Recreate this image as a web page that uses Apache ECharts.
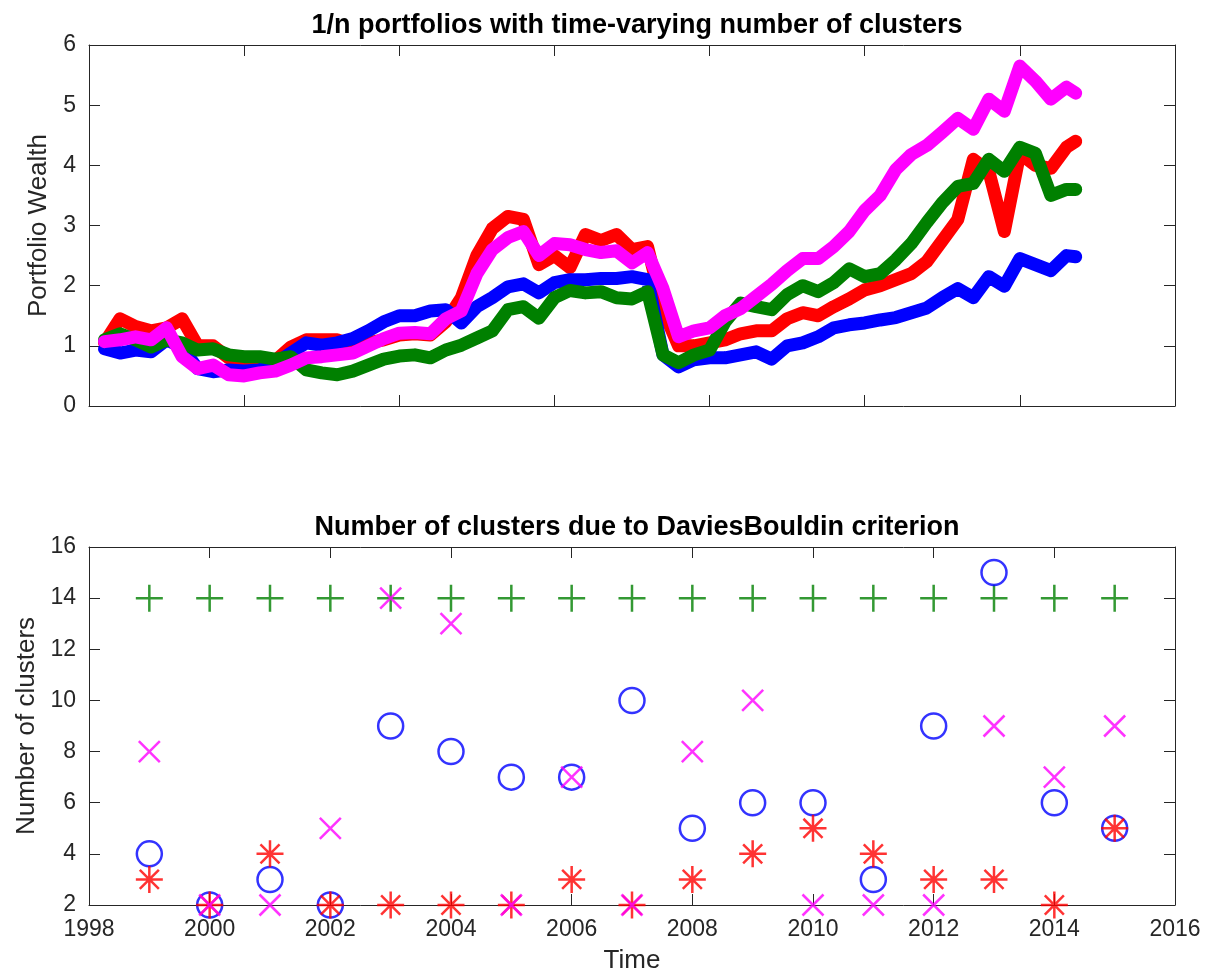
<!DOCTYPE html>
<html>
<head>
<meta charset="utf-8">
<title>1/n portfolios</title>
<script src="https://cdn.jsdelivr.net/npm/echarts@6/dist/echarts.min.js"></script>
<style>
  html, body { margin: 0; padding: 0; background: #ffffff; }
  #chart { width: 1207px; height: 970px; }
</style>
</head>
<body>
<div id="chart"></div>
<script>
// ---- Top panel: portfolio wealth paths (trading-day index vs. wealth) ----
const days = [50, 100, 150, 200, 250, 300, 350, 400, 450, 500, 550, 600, 650, 700, 750, 800,
  850, 900, 950, 1000, 1050, 1100, 1150, 1200, 1250, 1300, 1350, 1400, 1450, 1500, 1550, 1600,
  1650, 1700, 1750, 1800, 1850, 1900, 1950, 2000, 2050, 2100, 2150, 2200, 2250, 2300, 2350, 2400,
  2450, 2500, 2550, 2600, 2650, 2700, 2750, 2800, 2850, 2900, 2950, 3000, 3050, 3100, 3150, 3180];

const wealthRed = [1.05, 1.45, 1.32, 1.25, 1.30, 1.45, 1.00, 1.00, 0.80, 0.75, 0.70, 0.75, 0.98, 1.10, 1.10, 1.10,
  1.00, 1.05, 1.10, 1.18, 1.20, 1.18, 1.40, 1.80, 2.50, 2.95, 3.15, 3.10, 2.35, 2.50, 2.30, 2.85,
  2.75, 2.85, 2.60, 2.65, 1.60, 1.00, 1.00, 1.05, 1.10, 1.20, 1.25, 1.25, 1.45, 1.55, 1.50, 1.65,
  1.78, 1.93, 2.00, 2.10, 2.20, 2.40, 2.75, 3.10, 4.10, 3.90, 2.90, 4.20, 4.00, 3.95, 4.30, 4.40];

const wealthBlue = [0.95, 0.88, 0.93, 0.90, 1.10, 0.98, 0.62, 0.57, 0.60, 0.58, 0.60, 0.70, 0.88, 1.05, 1.01, 1.05,
  1.12, 1.25, 1.40, 1.50, 1.50, 1.58, 1.60, 1.38, 1.65, 1.80, 1.98, 2.03, 1.88, 2.05, 2.10, 2.10,
  2.12, 2.12, 2.15, 2.10, 0.85, 0.65, 0.77, 0.80, 0.80, 0.85, 0.90, 0.78, 1.00, 1.05, 1.15, 1.30,
  1.35, 1.38, 1.43, 1.47, 1.55, 1.63, 1.80, 1.95, 1.80, 2.15, 1.99, 2.45, 2.35, 2.25, 2.50, 2.48];

const wealthGreen = [1.10, 1.20, 1.10, 0.98, 1.10, 1.05, 0.93, 0.95, 0.85, 0.82, 0.82, 0.78, 0.82, 0.60, 0.55, 0.52,
  0.58, 0.68, 0.78, 0.83, 0.85, 0.80, 0.93, 1.01, 1.13, 1.25, 1.60, 1.65, 1.46, 1.80, 1.92, 1.88,
  1.90, 1.80, 1.78, 1.90, 0.85, 0.72, 0.85, 0.93, 1.40, 1.71, 1.65, 1.60, 1.85, 2.00, 1.90, 2.05,
  2.28, 2.15, 2.20, 2.43, 2.70, 3.05, 3.38, 3.65, 3.70, 4.10, 3.90, 4.30, 4.20, 3.50, 3.60, 3.60];

const wealthMagenta = [1.07, 1.10, 1.15, 1.10, 1.30, 0.82, 0.62, 0.68, 0.52, 0.50, 0.55, 0.58, 0.68, 0.80, 0.82, 0.85,
  0.88, 1.00, 1.12, 1.21, 1.22, 1.20, 1.45, 1.58, 2.20, 2.60, 2.80, 2.90, 2.50, 2.70, 2.68, 2.60,
  2.55, 2.58, 2.38, 2.55, 1.95, 1.15, 1.25, 1.30, 1.50, 1.62, 1.82, 2.02, 2.25, 2.45, 2.45, 2.65,
  2.90, 3.25, 3.50, 3.93, 4.18, 4.33, 4.55, 4.78, 4.60, 5.10, 4.90, 5.65, 5.40, 5.10, 5.30, 5.20];

// ---- Bottom panel: number of clusters per year ----
const years = [1999, 2000, 2001, 2002, 2003, 2004, 2005, 2006, 2007, 2008, 2009, 2010, 2011, 2012, 2013, 2014, 2015];
const clustersPlus   = [14, 14, 14, 14, 14, 14, 14, 14, 14, 14, 14, 14, 14, 14, 14, 14, 14];
const clustersCircle = [4, 2, 3, 2, 9, 8, 7, 7, 10, 5, 6, 6, 3, 9, 15, 6, 5];
const clustersStar   = [3, 2, 4, 2, 2, 2, 2, 3, 2, 3, 4, 5, 4, 3, 3, 2, 5];
const clustersCross  = [8, 2, 2, 5, 14, 13, 2, 7, 2, 8, 10, 2, 2, 2, 9, 7, 9];

const FONT = '"Liberation Sans", Arial, Helvetica, sans-serif';
const AXIS_COLOR = '#262626';

const pair = (xs, ys) => xs.map((x, i) => [x, ys[i]]);

function frameAxis(base, extra) {
  return Object.assign({
    type: 'value',
    axisLine: { show: true, onZero: false, lineStyle: { color: AXIS_COLOR, width: 1 } },
    axisTick: { show: true, inside: true, length: 11, lineStyle: { color: AXIS_COLOR, width: 1 } },
    splitLine: { show: false },
    axisLabel: { show: false }
  }, base, extra);
}

const tickLabel = {
  show: true, color: AXIS_COLOR, fontFamily: FONT, fontSize: 23, margin: 13,
  formatter: (v) => String(v)
};
const nameStyle = { fontFamily: FONT, fontSize: 26, color: AXIS_COLOR };
const titleStyle = { fontFamily: FONT, fontSize: 27, fontWeight: 'bold', color: '#000000' };

function wealthLine(data, color) {
  return {
    type: 'line', xAxisIndex: 0, yAxisIndex: 0,
    data: pair(days, data),
    showSymbol: false, symbol: 'none',
    lineStyle: { color: color, width: 13, cap: 'round', join: 'round' },
    silent: true
  };
}

function marker(data, path, size, color) {
  return {
    type: 'scatter', xAxisIndex: 2, yAxisIndex: 2,
    data: pair(years, data),
    symbol: path, symbolSize: size, clip: false,
    itemStyle: { color: 'transparent', borderColor: color, borderWidth: 2.5 },
    silent: true
  };
}

const PLUS  = 'path://M10,0L10,20M0,10L20,10';
const CROSS = 'path://M0,0L20,20M0,20L20,0';
const STAR  = 'path://M10,0L10,20M0,10L20,10M2.93,2.93L17.07,17.07M2.93,17.07L17.07,2.93';

const chart = echarts.init(document.getElementById('chart'), null, { renderer: 'canvas' });

chart.setOption({
  animation: false,
  backgroundColor: '#ffffff',
  title: [
    { text: '1/n portfolios with time-varying number of clusters', left: 632, top: 7, textAlign: 'center',
      textStyle: titleStyle },
    { text: 'Number of clusters due to DaviesBouldin criterion', left: 632, top: 509, textAlign: 'center',
      textStyle: titleStyle }
  ],
  grid: [
    { left: 89, right: 32, top: 45, height: 361, containLabel: false, outerBoundsMode: 'none' },
    { left: 89, right: 32, top: 547, height: 358, containLabel: false, outerBoundsMode: 'none' }
  ],
  xAxis: [
    frameAxis({ gridIndex: 0, position: 'bottom', min: 0, max: 3500, interval: 500 }),
    frameAxis({ gridIndex: 0, position: 'top', min: 0, max: 3500, interval: 500 }),
    frameAxis({ gridIndex: 1, position: 'bottom', min: 1998, max: 2016, interval: 2 }, {
      axisLabel: tickLabel,
      name: 'Time', nameLocation: 'middle', nameGap: 43, nameTextStyle: nameStyle
    }),
    frameAxis({ gridIndex: 1, position: 'top', min: 1998, max: 2016, interval: 2 })
  ],
  yAxis: [
    frameAxis({ gridIndex: 0, position: 'left', min: 0, max: 6, interval: 1 }, {
      axisLabel: tickLabel,
      name: 'Portfolio Wealth', nameLocation: 'middle', nameGap: 35, nameTextStyle: nameStyle
    }),
    frameAxis({ gridIndex: 0, position: 'right', min: 0, max: 6, interval: 1 }),
    frameAxis({ gridIndex: 1, position: 'left', min: 2, max: 16, interval: 2 }, {
      axisLabel: tickLabel,
      name: 'Number of clusters', nameLocation: 'middle', nameGap: 35, nameTextStyle: nameStyle
    }),
    frameAxis({ gridIndex: 1, position: 'right', min: 2, max: 16, interval: 2 })
  ],
  series: [
    wealthLine(wealthRed, '#ff0000'),
    wealthLine(wealthBlue, '#0000ff'),
    wealthLine(wealthGreen, '#008000'),
    wealthLine(wealthMagenta, '#ff00ff'),
    marker(clustersPlus, PLUS, 27, '#008000'),
    marker(clustersCircle, 'circle', 25, '#0000ff'),
    marker(clustersStar, STAR, 27, '#ff0000'),
    marker(clustersCross, CROSS, 21, '#ff00ff')
  ]
});
</script>
</body>
</html>
